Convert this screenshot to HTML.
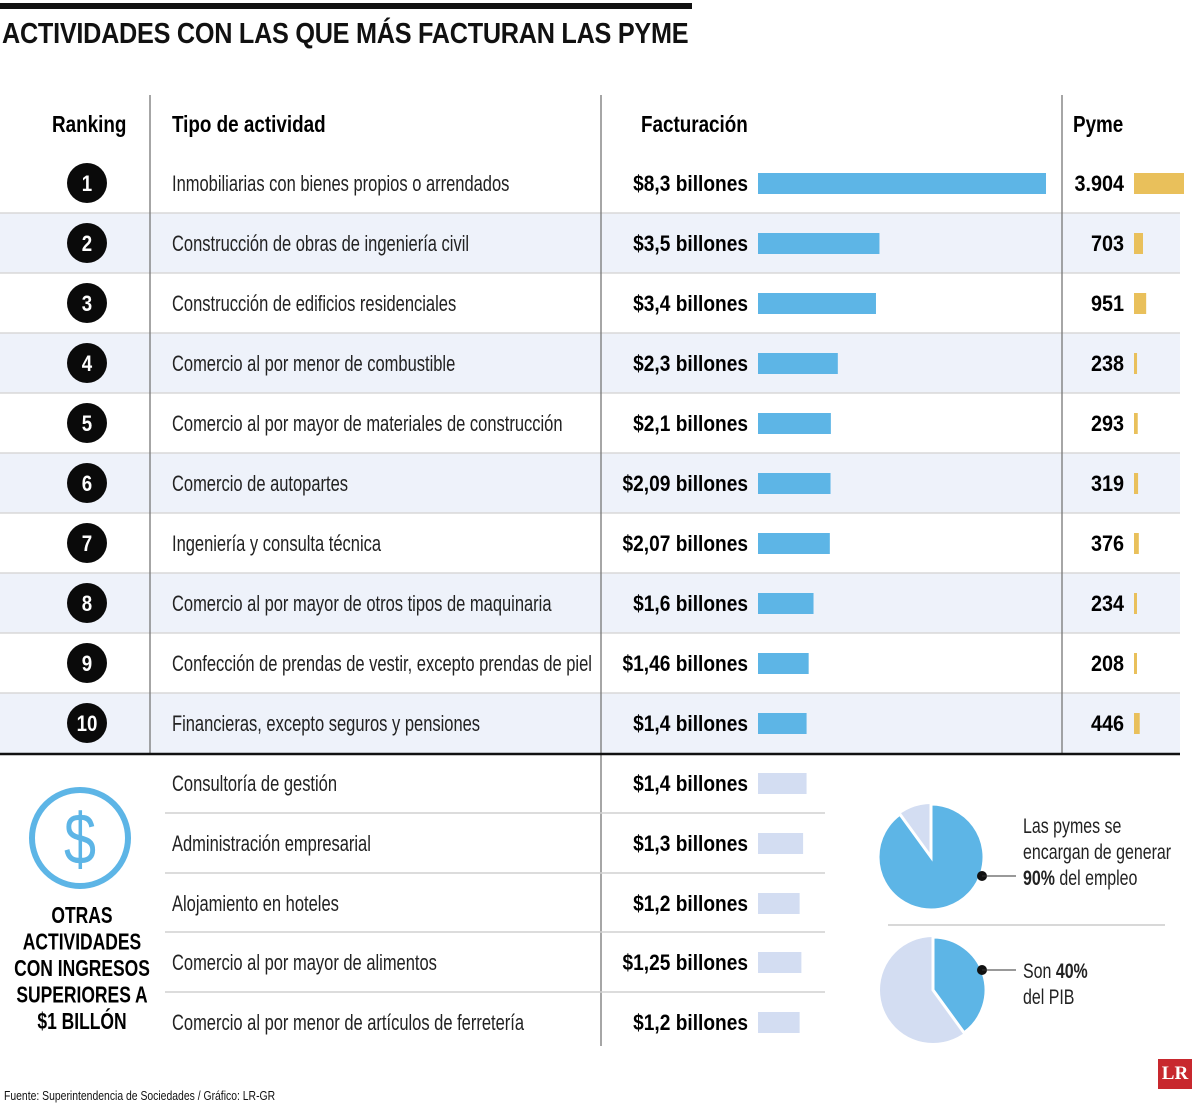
<!DOCTYPE html>
<html><head><meta charset="utf-8"><style>
body{margin:0;background:#fff;}
#c{position:relative;width:1200px;height:1109px;overflow:hidden;font-family:"Liberation Sans",sans-serif;color:#111;}
.a{position:absolute;}
.t{position:absolute;white-space:nowrap;}
</style></head><body>
<div id="c">
<div class="a" style="left:0;top:3px;width:692px;height:6px;background:#111"></div>
<div class="t" style="left:2px;top:18px;font-size:29px;font-weight:bold;letter-spacing:-0.3px;transform:scaleX(0.87);transform-origin:0 0">ACTIVIDADES CON LAS QUE MÁS FACTURAN LAS PYME</div>
<svg id="s" class="a" style="left:0;top:0" width="1200" height="1109"></svg>
<div class="t" style="left:4px;top:1088px;font-size:13px;transform:scaleX(0.8);transform-origin:0 0">Fuente: Superintendencia de Sociedades / Gráfico: LR-GR</div>
<div class="a" style="left:1158px;top:1059px;width:34px;height:30px;background:#c8282e;color:#fff;font-family:'Liberation Serif',serif;font-weight:bold;font-size:19px;text-align:center;line-height:30px">LR</div>
</div>
<script>
const ranks=["1","2","3","4","5","6","7","8","9","10"];
const activities=["Inmobiliarias con bienes propios o arrendados","Construcción de obras de ingeniería civil","Construcción de edificios residenciales","Comercio al por menor de combustible","Comercio al por mayor de materiales de construcción","Comercio de autopartes","Ingeniería y consulta técnica","Comercio al por mayor de otros tipos de maquinaria","Confección de prendas de vestir, excepto prendas de piel","Financieras, excepto seguros y pensiones"];
const revenue=[8.3,3.5,3.4,2.3,2.1,2.09,2.07,1.6,1.46,1.4];
const revenueLabels=["$8,3 billones","$3,5 billones","$3,4 billones","$2,3 billones","$2,1 billones","$2,09 billones","$2,07 billones","$1,6 billones","$1,46 billones","$1,4 billones"];
const pymes=[3904,703,951,238,293,319,376,234,208,446];
const pymeLabels=["3.904","703","951","238","293","319","376","234","208","446"];
const otherActs=["Consultoría de gestión","Administración empresarial","Alojamiento en hoteles","Comercio al por mayor de alimentos","Comercio al por menor de artículos de ferretería"];
const otherRevenue=[1.4,1.3,1.2,1.25,1.2];
const otherLabels=["$1,4 billones","$1,3 billones","$1,2 billones","$1,25 billones","$1,2 billones"];
const pieShares=[90,40];
const s=document.getElementById('s');const NS='http://www.w3.org/2000/svg';
function el(t,a,txt){const e=document.createElementNS(NS,t);for(const k in a)e.setAttribute(k,a[k]);if(txt!==undefined)e.textContent=txt;s.appendChild(e);return e;}
function sq(e,x,k){e.setAttribute('transform',`translate(${x},0) scale(${k},1) translate(${-x},0)`);return e;}
const xRev=v=>v*34.7, xPy=v=>v*50/3904;
const rowY=i=>153+60*i;
for(let i=0;i<10;i++){
 if(i%2==1){const r=el('rect',{x:0,y:rowY(i),width:1180,height:60,fill:'#eef2fa'});}
 if(i>0){const l=el('line',{x1:0,x2:1180,y1:rowY(i),y2:rowY(i),stroke:'#d8d8d8','stroke-width':1.5});}
}
[["Ranking",52,'ranking-header'],["Tipo de actividad",172,'activity-header'],["Facturación",641,'revenue-header'],["Pyme",1073,'pyme-header']].forEach(h=>{const t=el('text',{x:h[1],y:132,'font-size':23,'font-weight':'bold'},h[0]);sq(t,h[1],0.82);});
[[150,95,754],[601,95,1046],[1062,95,754]].forEach(v=>{const l=el('line',{x1:v[0],x2:v[0],y1:v[1],y2:v[2],stroke:'#777','stroke-width':1.3});});
for(let i=0;i<10;i++){
 const cy=rowY(i)+30;
 const c=el('circle',{cx:87,cy:cy,r:20,fill:'#0a0a0a'});
 const rt=el('text',{x:87,y:cy+8,'font-size':22,'font-weight':'bold',fill:'#fff','text-anchor':'middle'},ranks[i]);sq(rt,87,0.85);
 const at=el('text',{x:172,y:cy+8,'font-size':22,fill:'#222'},activities[i]);sq(at,172,0.75);
 const vt=el('text',{x:748,y:cy+8,'font-size':22,'font-weight':'bold','text-anchor':'end'},revenueLabels[i]);sq(vt,748,0.87);
 const b=el('rect',{x:758,y:cy-10,width:xRev(revenue[i]),height:21,fill:'#5db5e6'});
 const pt=el('text',{x:1124,y:cy+8,'font-size':22,'font-weight':'bold','text-anchor':'end'},pymeLabels[i]);sq(pt,1124,0.9);
 const pb=el('rect',{x:1134,y:cy-10,width:Math.max(3,xPy(pymes[i])),height:21,fill:'#e9c05b'});
}
const th=el('line',{x1:0,x2:1180,y1:754,y2:754,stroke:'#111','stroke-width':2.5});
for(let i=0;i<5;i++){
 const cy=783+60*i-(i>2?1:0);
 if(i>0){const l=el('line',{x1:165,x2:825,y1:cy-30,y2:cy-30,stroke:'#d0d0d0','stroke-width':1.5});}
 const at=el('text',{x:172,y:cy+8,'font-size':22,fill:'#222'},otherActs[i]);sq(at,172,0.75);
 const vt=el('text',{x:748,y:cy+8,'font-size':22,'font-weight':'bold','text-anchor':'end'},otherLabels[i]);sq(vt,748,0.87);
 const b=el('rect',{x:758,y:cy-10,width:xRev(otherRevenue[i]),height:21,fill:'#d3ddf2'});
}
const dc=el('circle',{cx:80,cy:838,r:48,fill:'none',stroke:'#5db5e6','stroke-width':6});
const ds=el('text',{x:80,y:864,'font-size':72,fill:'#5db5e6','text-anchor':'middle'},'$');sq(ds,80,0.8);
["OTRAS","ACTIVIDADES","CON INGRESOS","SUPERIORES A","$1 BILLÓN"].forEach((w,i)=>{const t=el('text',{x:82,y:923+26.5*i,'font-size':23,'font-weight':'bold','text-anchor':'middle'},w);sq(t,82,0.76);});
function pie(cx,cy,r,pct){
 const a=pct/100*2*Math.PI;
 const bg=el('circle',{cx:cx,cy:cy,r:r,fill:'#d3ddf2'});
 const x=cx+r*Math.sin(a),y=cy-r*Math.cos(a);
 const p=el('path',{d:`M${cx},${cy}L${cx},${cy-r}A${r},${r} 0 ${pct>50?1:0} 1 ${x},${y}Z`,fill:'#5db5e6',stroke:'#fff','stroke-width':3});
}
pie(931,857,53,pieShares[0]);pie(933,990,53,pieShares[1]);
[[876],[970]].forEach(d=>{const c=el('circle',{cx:982,cy:d[0],r:5,fill:'#111'});const l=el('line',{x1:982,x2:1016,y1:d[0],y2:d[0],stroke:'#333','stroke-width':1});});
const sep=el('line',{x1:888,x2:1165,y1:925,y2:925,stroke:'#ccc','stroke-width':1.5});
function rich(x,y,parts,name){const t=el('text',{x:x,y:y,'font-size':21,fill:'#222'});sq(t,x,0.76);parts.forEach(p=>{const sp=document.createElementNS(NS,'tspan');sp.textContent=p[0];if(p[1])sp.setAttribute('font-weight','bold');t.appendChild(sp);});}
rich(1023,833,[["Las pymes se"]],'employment-note');
rich(1023,859,[["encargan de generar"]],'employment-note');
rich(1023,885,[["90%",1],[" del empleo"]],'employment-note');
rich(1023,978,[["Son "],["40%",1]],'gdp-note');
rich(1023,1004,[["del PIB"]],'gdp-note');
</script>
</body></html>
